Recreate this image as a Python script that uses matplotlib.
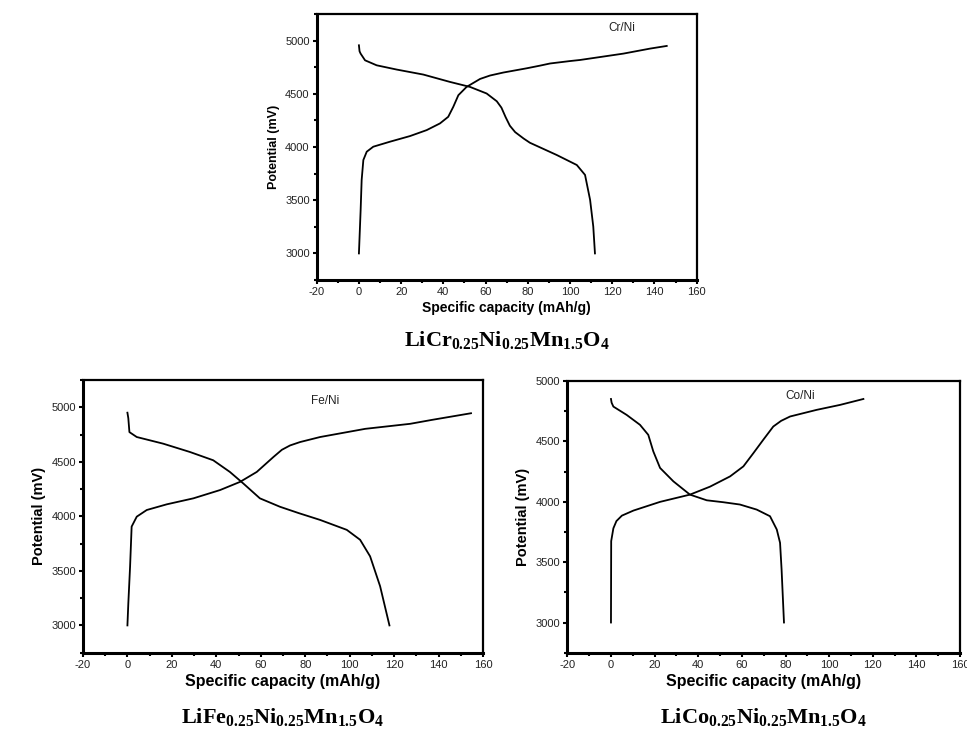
import matplotlib
matplotlib.use("Agg")
import matplotlib.pyplot as plt
from matplotlib.ticker import MultipleLocator

plt.rcParams['font.family'] = ['Liberation Sans', 'DejaVu Sans']
plt.rcParams['axes.unicode_minus'] = False
plt.rcParams['mathtext.fontset'] = 'custom'
plt.rcParams['mathtext.rm'] = 'Liberation Serif:bold'
plt.rcParams['mathtext.bf'] = 'Liberation Serif:bold'

# Cr/Ni cell (mAh/g, mV)
cr_charge_x = [0, 0.8, 1.3, 2.1, 3.7, 6.8, 14.7, 24.2, 32.1, 38.4, 42.3, 44.7, 47.1, 51,
               57.4, 62.1, 68.4, 79.5, 85.8, 90.5, 100, 104.7, 114, 125.3, 137.9, 145.8]
cr_charge_y = [3000, 3400, 3691, 3878, 3956, 4003, 4050, 4103, 4159, 4222, 4284, 4378, 4487,
               4565, 4640, 4672, 4700, 4740, 4765, 4785, 4808, 4818, 4845, 4878, 4925, 4950]
cr_dis_x = [0, 0.3, 0.8, 2.9, 8.4, 17.9, 30.5, 43.1, 52.6, 60.5, 65.3, 67.5, 69.5, 71.5,
            74, 78, 81, 93.7, 103.2, 107.1, 109.5, 111, 111.8]
cr_dis_y = [4956, 4900, 4878, 4815, 4768, 4728, 4681, 4612, 4565, 4503, 4430, 4370, 4280,
            4200, 4140, 4080, 4040, 3925, 3831, 3738, 3503, 3253, 3000]

# Fe/Ni cell
fe_charge_x = [0, 0.4, 1.2, 1.9, 4.2, 8.7, 17.7, 29.7, 41.7, 50.7, 58.2, 65.7, 69.5, 73.2,
               77.7, 86.7, 107, 127.2, 137, 154.6]
fe_charge_y = [3000, 3200, 3541, 3906, 3997, 4058, 4110, 4165, 4241, 4316, 4407, 4544, 4610,
               4650, 4681, 4727, 4802, 4848, 4884, 4945]
fe_dis_x = [0, 0.4, 0.9, 4.2, 16.1, 28.1, 38.6, 46.1, 52.1, 59.6, 68.6, 77, 86.7, 98.7,
            104.7, 109.2, 113.7, 117.9]
fe_dis_y = [4950, 4900, 4772, 4727, 4666, 4590, 4514, 4407, 4302, 4165, 4088, 4030, 3967,
            3876, 3785, 3633, 3359, 3000]

# Co/Ni cell
co_charge_x = [0, 0.1, 1.1, 2.5, 5, 10.3, 16.4, 22.5, 36.2, 45.4, 54.6, 60.7, 65.3, 69.8,
               74.4, 78, 82.1, 94.3, 105, 115.7]
co_charge_y = [3000, 3674, 3780, 3840, 3885, 3927, 3963, 3999, 4059, 4125, 4210, 4293, 4403,
               4513, 4623, 4670, 4706, 4761, 4802, 4851]
co_dis_x = [0, 0.3, 1.1, 7.2, 13.3, 17.1, 19.4, 22.5, 28.6, 36.2, 43.9, 51.5, 59.1, 66.8,
            72.9, 76, 77.5, 78.2, 79.3]
co_dis_y = [4851, 4820, 4788, 4719, 4637, 4554, 4417, 4280, 4169, 4059, 4012, 3996, 3977,
            3935, 3880, 3770, 3660, 3440, 3000]

fig = plt.figure(figsize=(9.67, 7.3), dpi=100)


def make_panel(rect, curves, tag, tag_xy, ymax, formula, lab_size, title_y):
    ax = fig.add_axes(rect)
    for cx, cy in curves:
        ax.plot(cx, cy, color='black', linewidth=1.3, solid_joinstyle='round')
    ax.set_xlim(-20, 160)
    ax.set_ylim(2750, ymax)
    ax.xaxis.set_major_locator(MultipleLocator(20))
    ax.xaxis.set_minor_locator(MultipleLocator(10))
    ax.yaxis.set_major_locator(MultipleLocator(500))
    ax.yaxis.set_minor_locator(MultipleLocator(250))
    ax.tick_params(which='major', direction='out', length=3, width=1.5, labelsize=8,
                   pad=2, labelcolor='#222222')
    ax.tick_params(which='minor', direction='out', length=2, width=1.5)
    for s in ['left', 'bottom']:
        ax.spines[s].set_linewidth(2.2)
    for s in ['top', 'right']:
        ax.spines[s].set_linewidth(1.6)
    ax.set_xlabel('Specific capacity (mAh/g)', fontsize=lab_size, fontweight='bold',
                  labelpad=3)
    ax.set_ylabel('Potential (mV)', fontsize=lab_size - 1, fontweight='bold', labelpad=4)
    ax.text(tag_xy[0], tag_xy[1], tag, fontsize=8.5, ha='center', va='center',
            color='#222222')
    fig.text(rect[0] + rect[2] / 2, title_y, formula, ha='center', va='center',
             fontsize=16)
    return ax


make_panel([0.3275, 0.6164, 0.393, 0.3644],
           [(cr_charge_x, cr_charge_y), (cr_dis_x, cr_dis_y)],
           'Cr/Ni', (124.5, 5122), 5250,
           r'$\mathrm{LiCr_{0.25}Ni_{0.25}Mn_{1.5}O_4}$', 10, 1 - 340 / 730)

make_panel([0.0858, 0.1059, 0.4137, 0.3736],
           [(fe_charge_x, fe_charge_y), (fe_dis_x, fe_dis_y)],
           'Fe/Ni', (88.8, 5061), 5250,
           r'$\mathrm{LiFe_{0.25}Ni_{0.25}Mn_{1.5}O_4}$', 11.5, 1 - 717 / 730)

make_panel([0.5867, 0.1059, 0.4061, 0.3722],
           [(co_charge_x, co_charge_y), (co_dis_x, co_dis_y)],
           'Co/Ni', (86.7, 4876), 5000,
           r'$\mathrm{LiCo_{0.25}Ni_{0.25}Mn_{1.5}O_4}$', 11.5, 1 - 717 / 730)

fig.savefig('out.png', dpi=100)
